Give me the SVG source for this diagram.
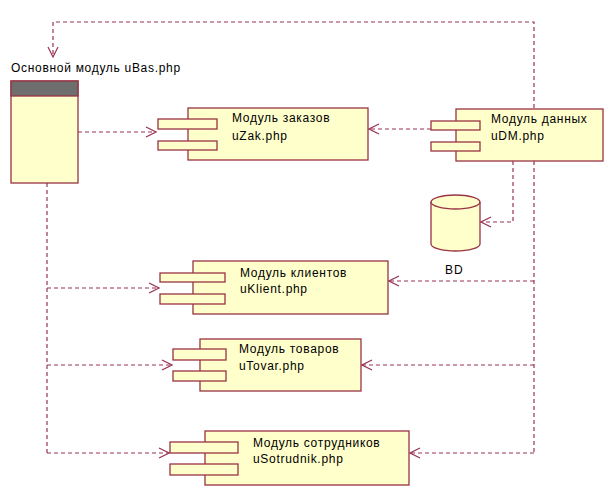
<svg xmlns="http://www.w3.org/2000/svg" width="616" height="495" viewBox="0 0 616 495">
<defs>
<style>
.box{fill:#FFFFCC;stroke:#993344;stroke-width:1.3}
.dep{fill:none;stroke:#993355;stroke-width:1.2;stroke-dasharray:4,3}
.ah{fill:none;stroke:#993355;stroke-width:1.2}
text{font-family:"Liberation Sans",Arial,sans-serif;font-size:12px;fill:#000;letter-spacing:0.7px}
</style>
<marker id="arr" viewBox="0 0 12 12" refX="11" refY="6" markerWidth="12" markerHeight="12" markerUnits="userSpaceOnUse" orient="auto">
<path d="M1,1 L11,6 L1,11" class="ah"/>
</marker>
</defs>
<rect width="616" height="495" fill="#fff"/>
<g id="connectors">
<path class="dep" d="M534,108 V22 H53 V57" marker-end="url(#arr)"/>
<path class="dep" d="M78,132 H156" marker-end="url(#arr)"/>
<path class="dep" d="M431,129 H369" marker-end="url(#arr)"/>
<path class="dep" d="M513,161 V222 H481" marker-end="url(#arr)"/>
<path class="dep" d="M534,161 V453"/>
<path class="dep" d="M47,183 V453"/>
<path class="dep" d="M47,288 H159" marker-end="url(#arr)"/>
<path class="dep" d="M534,281 H389" marker-end="url(#arr)"/>
<path class="dep" d="M47,365 H172" marker-end="url(#arr)"/>
<path class="dep" d="M534,365 H362" marker-end="url(#arr)"/>
<path class="dep" d="M47,453 H169" marker-end="url(#arr)"/>
<path class="dep" d="M534,453 H410" marker-end="url(#arr)"/>
</g>
<g id="uBas">
<text x="11" y="72">Основной модуль uBas.php</text>
<rect class="box" x="11" y="81" width="67" height="102"/>
<rect x="11" y="81" width="67" height="15" fill="#6e6e6e" stroke="#993344" stroke-width="1.3"/>
</g>
<g id="uZak">
<rect class="box" x="188" y="108" width="180" height="52"/>
<rect class="box" x="158" y="119" width="59" height="10"/>
<rect class="box" x="158" y="141" width="59" height="9"/>
<text x="232" y="122">Модуль заказов</text>
<text x="232" y="140">uZak.php</text>
</g>
<g id="uDM">
<rect class="box" x="456" y="109" width="147" height="52"/>
<rect class="box" x="431" y="121" width="49" height="9"/>
<rect class="box" x="431" y="142" width="49" height="9"/>
<text x="491" y="123">Модуль данных</text>
<text x="491" y="140">uDM.php</text>
</g>
<g id="BD">
<path class="box" d="M431,202 V244 A24.5,7 0 0 0 480,244 V202 A24.5,7 0 0 0 431,202 Z"/>
<path d="M431,202 A24.5,7 0 0 0 480,202" fill="none" stroke="#993344" stroke-width="1.3"/>
<text x="445" y="274" style="letter-spacing:1px">BD</text>
</g>
<g id="uKlient">
<rect class="box" x="193" y="261" width="195" height="53"/>
<rect class="box" x="160" y="273" width="65" height="9"/>
<rect class="box" x="160" y="294" width="65" height="10"/>
<text x="240" y="277">Модуль клиентов</text>
<text x="240" y="293">uKlient.php</text>
</g>
<g id="uTovar">
<rect class="box" x="200" y="339" width="161" height="52"/>
<rect class="box" x="173" y="349" width="53" height="11"/>
<rect class="box" x="173" y="371" width="53" height="10"/>
<text x="239" y="353">Модуль товаров</text>
<text x="239" y="370">uTovar.php</text>
</g>
<g id="uSotrudnik">
<rect class="box" x="205" y="431" width="204" height="54"/>
<rect class="box" x="170" y="442" width="68" height="11"/>
<rect class="box" x="170" y="464" width="68" height="11"/>
<text x="253" y="447">Модуль сотрудников</text>
<text x="253" y="463">uSotrudnik.php</text>
</g>
</svg>
